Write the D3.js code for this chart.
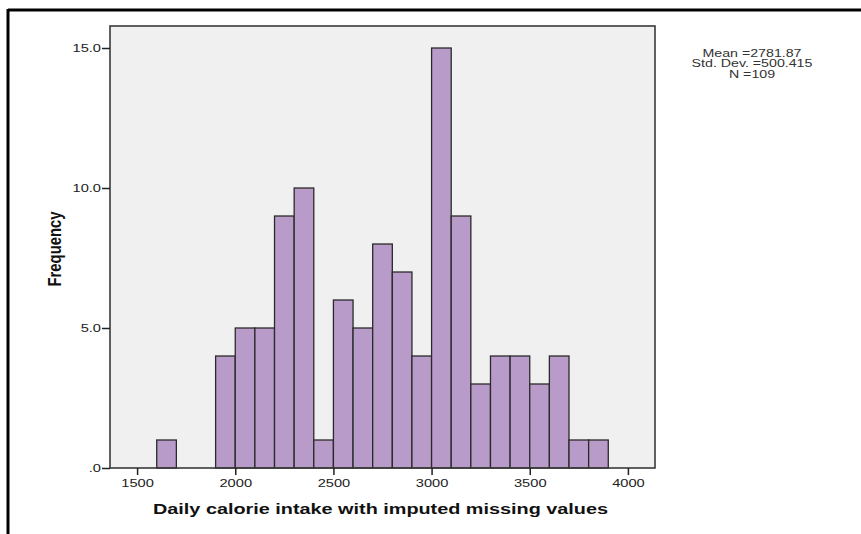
<!DOCTYPE html>
<html><head><meta charset="utf-8">
<script src="https://cdn.jsdelivr.net/npm/d3@7/dist/d3.min.js"></script>
<style>body{margin:0;background:#fff;}svg{display:block;}</style>
</head><body>
<svg id="c" width="861" height="534"></svg>
<script>
const binStarts = [1600,1900,2000,2100,2200,2300,2400,2500,2600,2700,2800,2900,3000,3100,3200,3300,3400,3500,3600,3700,3800];
const frequencies = [1,4,5,5,9,10,1,6,5,8,7,4,15,9,3,4,4,3,4,1,1];
const binWidth = 100;
const xTicks = [1500,2000,2500,3000,3500,4000];
const yTicks = [0,5,10,15];
const yTickLabels = [".0","5.0","10.0","15.0"];
const statsLines = ["Mean =2781.87","Std. Dev. =500.415","N =109"];

const SX = 1.33; // horizontal stretch of the reference text
const svg = d3.select("#c");
svg.append("line").attr("x1",8).attr("x2",861).attr("y1",10).attr("y2",10).attr("stroke","#000").attr("stroke-width",3);
svg.append("line").attr("x1",8).attr("x2",8).attr("y1",9).attr("y2",534).attr("stroke","#000").attr("stroke-width",3);

const L=110,R=655,T=26,B=468;
const x = d3.scaleLinear().domain([1362,4138]).range([L,R]);
const y = d3.scaleLinear().domain([0,15.786]).range([B,T]);

svg.append("rect").attr("x",L).attr("y",T).attr("width",R-L).attr("height",B-T).attr("fill","#f0f0f0");

svg.append("g").selectAll("rect").data(binStarts).join("rect")
  .attr("x",(d)=>x(d)).attr("width",(d)=>x(d+binWidth)-x(d))
  .attr("y",(d,i)=>y(frequencies[i])).attr("height",(d,i)=>y(0)-y(frequencies[i]))
  .attr("fill","#b89bc9").attr("stroke","#2a2a2a").attr("stroke-width",1.3);

svg.append("rect").attr("x",L).attr("y",T).attr("width",R-L).attr("height",B-T).attr("fill","none").attr("stroke","#3a3a3a").attr("stroke-width",1.6);

const xa = svg.append("g").attr("transform",`translate(0,${B})`)
  .call(d3.axisBottom(x).tickValues(xTicks).tickSize(7).tickPadding(4).tickFormat(d3.format("d")));
xa.select(".domain").remove();
xa.selectAll("line").attr("stroke","#222").attr("stroke-width",1.5);
xa.selectAll("text").attr("font-family","Arial, 'Liberation Sans', sans-serif").attr("font-size",11).attr("fill","#222")
  .attr("transform",`scale(${SX},1)`);

const ya = svg.append("g").attr("transform",`translate(${L},0)`)
  .call(d3.axisLeft(y).tickValues(yTicks).tickSize(8).tickPadding(1).tickFormat((d,i)=>yTickLabels[i]));
ya.select(".domain").remove();
ya.selectAll("line").attr("stroke","#222").attr("stroke-width",1.5);
ya.selectAll("text").attr("font-family","Arial, 'Liberation Sans', sans-serif").attr("font-size",11).attr("fill","#222")
  .attr("x",-9/SX).attr("transform",`scale(${SX},1)`);

svg.append("text").attr("x",153).attr("y",514)
  .attr("font-family","Arial, 'Liberation Sans', sans-serif").attr("font-weight","bold").attr("font-size",14).attr("fill","#111")
  .attr("textLength",455).attr("lengthAdjust","spacingAndGlyphs")
  .text("Daily calorie intake with imputed missing values");

svg.append("text").attr("transform",`translate(61,249) rotate(-90) scale(1,${SX})`).attr("text-anchor","middle")
  .attr("font-family","Arial, 'Liberation Sans', sans-serif").attr("font-weight","bold").attr("font-size",14).attr("fill","#111")
  .attr("textLength",75).attr("lengthAdjust","spacingAndGlyphs")
  .text("Frequency");

svg.append("g").selectAll("text").data(statsLines).join("text")
  .attr("transform",(d,i)=>`translate(752,${56.5+i*10.5}) scale(1.42,1)`).attr("text-anchor","middle")
  .attr("font-family","Arial, 'Liberation Sans', sans-serif").attr("font-size",10).attr("fill","#333")
  .text(d=>d);
</script>
</body></html>
